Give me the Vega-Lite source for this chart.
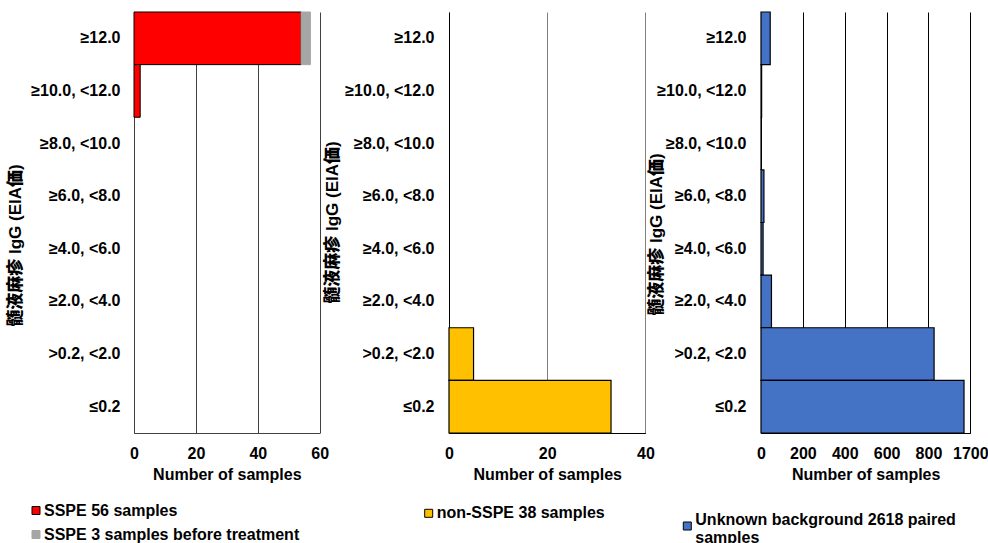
{
  "$schema": "https://vega.github.io/schema/vega-lite/v6.json",
  "padding": {"left": 6, "top": 11, "right": 0, "bottom": 0},
  "background": "white",
  "spacing": 115,
  "bounds": "flush",
  "resolve": {
    "scale": {"color": "independent", "stroke": "independent", "x": "independent", "y": "independent"},
    "legend": {"color": "independent", "stroke": "independent"},
    "axis": {"x": "independent", "y": "independent"}
  },
  "datasets": {
    "sspe": [
      {"range": "≥12.0", "series": "SSPE 56 samples", "count": 54},
      {"range": "≥12.0", "series": "SSPE 3 samples before treatment", "count": 3},
      {"range": "≥10.0, <12.0", "series": "SSPE 56 samples", "count": 2}
    ],
    "nonsspe": [
      {"range": ">0.2, <2.0", "series": "non-SSPE 38 samples", "count": 5},
      {"range": "≤0.2", "series": "non-SSPE 38 samples", "count": 33}
    ],
    "unknown": [
      {"range": "≥12.0", "series": "Unknown background 2618 paired samples", "count": 44},
      {"range": "≥10.0, <12.0", "series": "Unknown background 2618 paired samples", "count": 3},
      {"range": "≥8.0, <10.0", "series": "Unknown background 2618 paired samples", "count": 0},
      {"range": "≥6.0, <8.0", "series": "Unknown background 2618 paired samples", "count": 14},
      {"range": "≥4.0, <6.0", "series": "Unknown background 2618 paired samples", "count": 10},
      {"range": "≥2.0, <4.0", "series": "Unknown background 2618 paired samples", "count": 50},
      {"range": ">0.2, <2.0", "series": "Unknown background 2618 paired samples", "count": 827},
      {"range": "≤0.2", "series": "Unknown background 2618 paired samples", "count": 1670}
    ]
  },
  "hconcat": [
    {
      "width": 200,
      "height": 421,
      "data": {"name": "sspe"},
      "mark": {"type": "bar", "strokeWidth": 1},
      "encoding": {
        "y": {
          "field": "range", "type": "nominal",
          "scale": {"domain": ["≥12.0", "≥10.0, <12.0", "≥8.0, <10.0", "≥6.0, <8.0", "≥4.0, <6.0", "≥2.0, <4.0", ">0.2, <2.0", "≤0.2"], "paddingInner": 0, "paddingOuter": 0},
          "axis": {"title": "髄液麻疹 IgG (EIA価)", "titleX": -119, "titleY": 233, "titleAngle": -90, "titleBaseline": "middle", "titleAlign": "center", "labelPadding": 14, "domainColor": "#404040"}
        },
        "x": {
          "field": "count", "type": "quantitative", "stack": "zero",
          "scale": {"domain": [0, 60], "range": [0, 185.7], "nice": false},
          "axis": {"values": [0, 20, 40, 60], "grid": true, "gridColor": "#404040", "title": "Number of samples", "labelPadding": 12, "titlePadding": 5, "domainColor": "#404040"}
        },
        "color": {
          "field": "series", "type": "nominal",
          "scale": {"domain": ["SSPE 56 samples", "SSPE 3 samples before treatment"], "range": ["#FF0000", "#A6A6A6"]},
          "legend": {"title": null, "orient": "none", "legendX": -106, "legendY": 490.5}
        },
        "stroke": {
          "field": "series", "type": "nominal",
          "scale": {"domain": ["SSPE 56 samples", "SSPE 3 samples before treatment"], "range": ["#000000", "#A6A6A6"]},
          "legend": {"title": null, "orient": "none", "legendX": -106, "legendY": 490.5}
        },
        "order": {"field": "series", "sort": "descending"}
      }
    },
    {
      "width": 196.4,
      "height": 421,
      "data": {"name": "nonsspe"},
      "mark": {"type": "bar", "stroke": "#000000", "strokeWidth": 1.2},
      "encoding": {
        "y": {
          "field": "range", "type": "nominal",
          "scale": {"domain": ["≥12.0", "≥10.0, <12.0", "≥8.0, <10.0", "≥6.0, <8.0", "≥4.0, <6.0", "≥2.0, <4.0", ">0.2, <2.0", "≤0.2"], "paddingInner": 0, "paddingOuter": 0},
          "axis": {"title": "髄液麻疹 IgG (EIA価)", "titleX": -116.6, "titleY": 210, "titleAngle": -90, "titleBaseline": "middle", "titleAlign": "center", "labelPadding": 15, "domainColor": "#000000"}
        },
        "x": {
          "field": "count", "type": "quantitative",
          "scale": {"domain": [0, 40], "nice": false},
          "axis": {"values": [0, 20, 40], "grid": true, "gridColor": "#808080", "title": "Number of samples", "labelPadding": 12, "titlePadding": 5, "domainColor": "#000000"}
        },
        "color": {
          "field": "series", "type": "nominal",
          "scale": {"domain": ["non-SSPE 38 samples"], "range": ["#FFC000"]},
          "legend": {"title": null, "orient": "none", "legendX": -28.3, "legendY": 493.3}
        }
      }
    },
    {
      "width": 209.3,
      "height": 421,
      "data": {"name": "unknown"},
      "mark": {"type": "bar", "stroke": "#000000", "strokeWidth": 1.2},
      "encoding": {
        "y": {
          "field": "range", "type": "nominal",
          "scale": {"domain": ["≥12.0", "≥10.0, <12.0", "≥8.0, <10.0", "≥6.0, <8.0", "≥4.0, <6.0", "≥2.0, <4.0", ">0.2, <2.0", "≤0.2"], "paddingInner": 0, "paddingOuter": 0},
          "axis": {"title": "髄液麻疹 IgG (EIA価)", "titleX": -104.7, "titleY": 222, "titleAngle": -90, "titleBaseline": "middle", "titleAlign": "center", "labelPadding": 15, "domainColor": "#000000"}
        },
        "x": {
          "field": "count", "type": "quantitative",
          "scale": {"domain": [0, 900, 1600, 1700], "range": [0, 188.37, 188.37, 209.3], "nice": false, "zero": false},
          "axis": {"values": [0, 200, 400, 600, 800, 1700], "format": "d", "grid": true, "gridColor": "#000000", "title": "Number of samples", "labelPadding": 12, "titlePadding": 5, "domainColor": "#000000"}
        },
        "color": {
          "field": "series", "type": "nominal",
          "scale": {"domain": ["Unknown background 2618 paired samples"], "range": ["#4472C4"]},
          "legend": {
            "title": null, "orient": "none", "legendX": -81.7, "legendY": 506,
            "labelExpr": "datum.label == 'Unknown background 2618 paired samples' ? ['Unknown background 2618 paired', 'samples'] : datum.label",
            "encode": {"labels": {"update": {"dy": {"value": -6}}}}
          }
        }
      }
    }
  ],
  "config": {
    "view": {"stroke": null},
    "font": "Liberation Sans, Noto Sans CJK JP",
    "axis": {
      "labelFont": "Liberation Sans, Noto Sans CJK JP",
      "labelFontWeight": "bold",
      "labelFontSize": 16,
      "labelColor": "#000000",
      "titleFont": "Liberation Sans, Noto Sans CJK JP",
      "titleFontWeight": "bold",
      "titleFontSize": 16,
      "titleColor": "#000000",
      "ticks": false,
      "labelFlush": false,
      "labelOverlap": false,
      "domainWidth": 1,
      "gridWidth": 1,
      "gridOpacity": 1
    },
    "axisY": {"titleFontSize": 17, "titleFontWeight": 900},
    "legend": {
      "labelFont": "Liberation Sans, Noto Sans CJK JP",
      "labelFontWeight": "bold",
      "labelFontSize": 16,
      "labelColor": "#000000",
      "labelLimit": 400,
      "labelOffset": 0,
      "symbolType": "square",
      "symbolSize": 64,
      "symbolStrokeWidth": 1,
      "symbolStrokeColor": "#000000",
      "rowPadding": 8,
      "padding": 0
    }
  }
}
